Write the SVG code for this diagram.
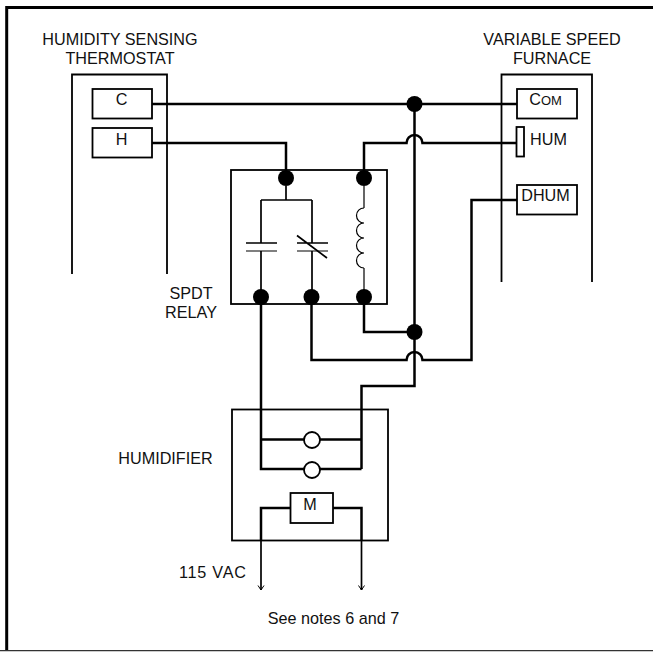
<svg xmlns="http://www.w3.org/2000/svg" width="653" height="652" viewBox="0 0 653 652">
<defs>
<style>
text{font-family:"Liberation Sans",Arial,sans-serif;font-size:16.200px;fill:#111;text-anchor:middle}
.b{fill:#fff;stroke:#000;stroke-width:1.8}
.o{fill:none;stroke:#000;stroke-width:1.8}
.w{fill:none;stroke:#000;stroke-width:2.500}
.t{fill:none;stroke:#000;stroke-width:1.700}
.n{fill:none;stroke:#000;stroke-width:1.200}
.d{fill:#000}
</style>
<marker id="a" markerWidth="10" markerHeight="10" refX="4" refY="7" orient="0" markerUnits="userSpaceOnUse"><path d="M1 2.500L4 7L7 2.500" fill="none" stroke="#000" stroke-width="1"/></marker>
</defs>
<rect width="653" height="652" fill="#fff"/>
<path d="M6.700 651V7.500H653" fill="none" stroke="#000" stroke-width="3"/>
<path d="M0 650.700H653" fill="none" stroke="#333" stroke-width="1.300"/>
<g id="thermostat">
<path class="o" d="M72 274V74.500H167V274"/>
<text x="120" y="45">HUMIDITY SENSING</text>
<text x="120" y="64">THERMOSTAT</text>
</g>
<g id="furnace">
<path class="o" d="M501.500 282V74.500H592V282"/>
<text x="552" y="45">VARIABLE SPEED</text>
<text x="552" y="64">FURNACE</text>
</g>
<g id="relay">
<rect class="o" x="231" y="170" width="156" height="134"/>
<text x="191" y="299">SPDT</text>
<text x="191" y="318">RELAY</text>
<path class="t" d="M286 186V200M261 200H312M261 200V243M261 251V290M312 200V243M312 251V290M246 243H277M297 243H328M297 235.500L327 258"/>
<path class="n" d="M246 251H277M297 251H328M364 186V208M364 268V290"/>
<path class="n" d="M364 208a7.500 7.500 0 0 0 0 15a7.500 7.500 0 0 0 0 15a7.500 7.500 0 0 0 0 15a7.500 7.500 0 0 0 0 15"/>
</g>
<g id="connectors">
<path class="w" d="M152 104H517"/>
<path class="w" d="M152 143H286V177"/>
<path class="w" d="M364 177V143H406.500a8 8 0 0 1 16 0H516"/>
<path class="w" d="M414.500 104V386H361.500V469"/>
<path class="w" d="M364 296V332H414.500"/>
<path class="w" d="M311.500 296V360H406.500a8 8 0 0 1 16 0H471.500V200H517"/>
<path class="w" d="M261 296V469H361.500M261 439.500H361.500"/>
<path class="w" d="M290 508H261V540"/>
<path class="w" d="M333 508H361.500V540"/>
<path class="t" d="M261 540V590" marker-end="url(#a)"/>
<path class="t" d="M361.500 540V590" marker-end="url(#a)"/>
</g>
<g id="dots">
<circle class="d" cx="414.500" cy="104" r="8"/>
<circle class="d" cx="414.500" cy="332" r="8"/>
<circle class="d" cx="286" cy="178" r="8"/>
<circle class="d" cx="364" cy="178" r="8"/>
<circle class="d" cx="261" cy="297" r="8"/>
<circle class="d" cx="311.500" cy="297" r="8"/>
<circle class="d" cx="364" cy="297" r="8"/>
</g>
<g id="c"><rect class="b" x="92.500" y="89" width="59.500" height="29.500"/><text x="121.500" y="105">C</text></g>
<g id="h"><rect class="b" x="92.500" y="128" width="59.500" height="29.500"/><text x="121.500" y="144.500">H</text></g>
<g id="com"><rect class="b" x="517" y="89" width="60" height="29.500"/><text x="545.500" y="105"><tspan>C</tspan><tspan font-size="13">OM</tspan></text></g>
<g id="hum"><rect class="b" x="516.500" y="127" width="7.500" height="29.500"/><text x="548.500" y="144.500">HUM</text></g>
<g id="dhum"><rect class="b" x="517" y="185" width="60" height="29.500"/><text x="545.500" y="201">DHUM</text></g>
<g id="humidifier">
<rect class="o" x="232" y="409.500" width="156" height="131"/>
<text x="165.500" y="464">HUMIDIFIER</text>
<circle cx="312" cy="440" r="8" class="b"/>
<circle cx="312" cy="470" r="8" class="b"/>
<rect class="b" x="290.500" y="493" width="42.500" height="30"/>
<text x="310" y="510">M</text>
</g>
<text x="212.500" y="578" textLength="67">115 VAC</text>
<text x="333.500" y="624">See notes 6 and 7</text>
</svg>
